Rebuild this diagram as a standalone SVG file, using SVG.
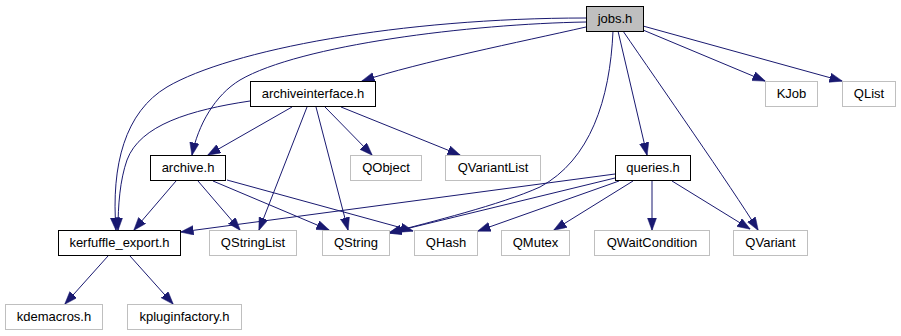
<svg xmlns="http://www.w3.org/2000/svg" width="901" height="336" viewBox="0 0 901 336">
<style>
.n rect{fill:#fff;stroke:#000;stroke-width:1}
.n.u rect{stroke:#bfbfbf}
.n.cur rect{fill:#bfbfbf}
.n text{font-family:"Liberation Sans",Arial,sans-serif;font-size:13px;text-anchor:middle;fill:#000}
.e path{fill:none;stroke:#191970;stroke-width:1;marker-end:url(#ah)}
</style>
<defs>
<marker id="ah" markerUnits="userSpaceOnUse" markerWidth="13" markerHeight="10" refX="12.5" refY="4.7" orient="auto">
<path d="M0,0 L13,4.7 L0,9.4 z" fill="#191970" stroke="#191970" stroke-width="0.5"/>
</marker>
</defs>
<rect width="901" height="336" fill="#fff"/>
<g id="edges" class="e">
<path d="M586,27 C520,42 420,62 362,81"/>
<path d="M586,22 C470,24 300,45 240,80 C215,95 198,125 192,155"/>
<path d="M586,18 C400,18 230,50 167,87 C125,112 111,165 116,230"/>
<path d="M250,101 C190,110 140,125 127,160 C120,180 118,205 118,230"/>
<path d="M292,107 L208,155"/>
<path d="M307,107 L259,230"/>
<path d="M316,107 L348,230"/>
<path d="M325,107 L372,155"/>
<path d="M341,107 L460,155"/>
<path d="M176,181 L134,230"/>
<path d="M198,181 L240,230"/>
<path d="M213,181 L329,230"/>
<path d="M227,180 L413,231"/>
<path d="M615,174 L181,232"/>
<path d="M615,178 L389,233"/>
<path d="M619,181 L478,231"/>
<path d="M633,181 L554,230"/>
<path d="M652,181 L652,230"/>
<path d="M672,181 L750,229"/>
<path d="M618,31 L647,155"/>
<path d="M623,31 C660,85 730,185 758,230"/>
<path d="M613,31 C610,100 590,160 540,187 C500,205 430,222 389,233"/>
<path d="M643,30 L765,81"/>
<path d="M643,26 L842,81"/>
<path d="M108,256 L65,304"/>
<path d="M130,256 L173,304"/>
</g>
<g id="jobs_h" class="n cur"><rect x="586.5" y="6.5" width="57" height="25"/><text x="615" y="23">jobs.h</text></g>
<g id="archiveinterface_h" class="n"><rect x="250.5" y="81.5" width="125" height="25"/><text x="313" y="98">archiveinterface.h</text></g>
<g id="KJob" class="n u"><rect x="765.5" y="81.5" width="52" height="25"/><text x="791.5" y="98">KJob</text></g>
<g id="QList" class="n u"><rect x="842.5" y="81.5" width="53" height="25"/><text x="869" y="98">QList</text></g>
<g id="archive_h" class="n"><rect x="150.5" y="155.5" width="75" height="25"/><text x="188" y="172">archive.h</text></g>
<g id="QObject" class="n u"><rect x="350.5" y="155.5" width="71" height="25"/><text x="386" y="172">QObject</text></g>
<g id="QVariantList" class="n u"><rect x="445.5" y="155.5" width="95" height="25"/><text x="493" y="172">QVariantList</text></g>
<g id="queries_h" class="n"><rect x="615.5" y="155.5" width="75" height="25"/><text x="653" y="172">queries.h</text></g>
<g id="kerfuffle_export_h" class="n"><rect x="58.5" y="230.5" width="122" height="25"/><text x="119.5" y="247">kerfuffle_export.h</text></g>
<g id="QStringList" class="n u"><rect x="209.5" y="230.5" width="87" height="25"/><text x="253" y="247">QStringList</text></g>
<g id="QString" class="n u"><rect x="322.5" y="230.5" width="67" height="25"/><text x="356" y="247">QString</text></g>
<g id="QHash" class="n u"><rect x="414.5" y="230.5" width="63" height="25"/><text x="446" y="247">QHash</text></g>
<g id="QMutex" class="n u"><rect x="501.5" y="230.5" width="68" height="25"/><text x="535.5" y="247">QMutex</text></g>
<g id="QWaitCondition" class="n u"><rect x="594.5" y="230.5" width="115" height="25"/><text x="652" y="247">QWaitCondition</text></g>
<g id="QVariant" class="n u"><rect x="733.5" y="230.5" width="74" height="25"/><text x="770.5" y="247">QVariant</text></g>
<g id="kdemacros_h" class="n u"><rect x="5.5" y="304.5" width="97" height="25"/><text x="54" y="321">kdemacros.h</text></g>
<g id="kpluginfactory_h" class="n u"><rect x="127.5" y="304.5" width="114" height="25"/><text x="184.5" y="321">kpluginfactory.h</text></g>
</svg>
